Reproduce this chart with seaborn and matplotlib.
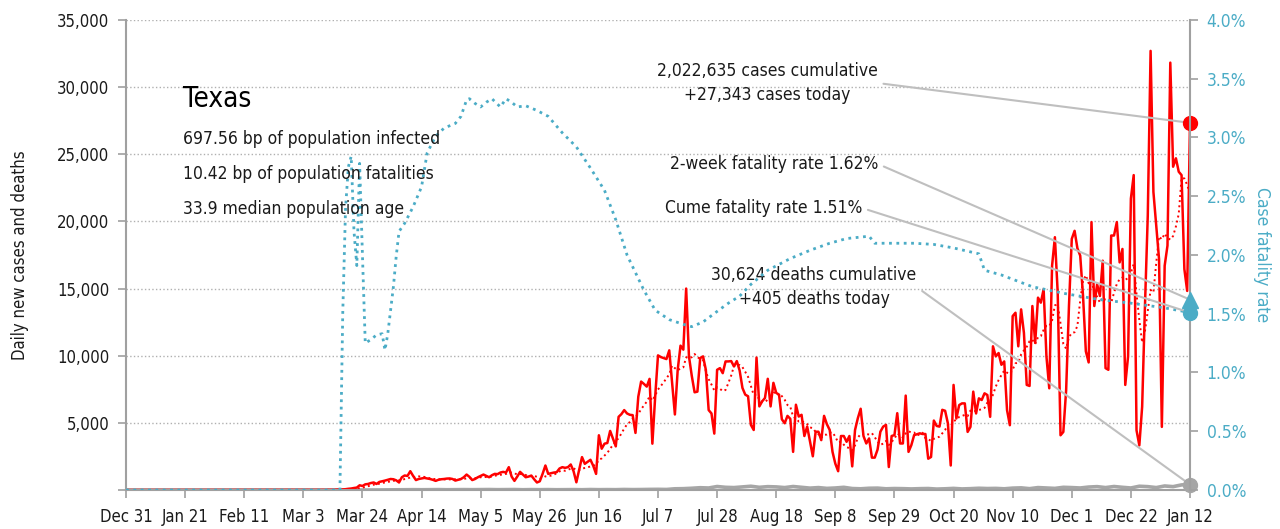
import pandas as pd
import seaborn as sns
import matplotlib.pyplot as plt
import matplotlib.dates as mdates
from matplotlib.ticker import FuncFormatter, MultipleLocator

# ------------------------------------------------------------------
# Texas daily new cases, deaths and case fatality rate
# ------------------------------------------------------------------

# daily new cases, Mar 1 2020 .. Jan 12 2021
cases = [
    0, 0, 0, 0, 1, 2, 3, 2, 4, 5,
    8, 10, 15, 20, 30, 25, 40, 60, 90, 110,
    150, 180, 350, 300, 420, 450, 520, 560, 450, 600,
    650, 700, 760, 820, 800, 720, 560, 950, 1080, 1050,
    1400, 1050, 740, 820, 860, 900, 860, 820, 760, 680,
    760, 800, 820, 850, 860, 820, 700, 760, 820, 950,
    1150, 980, 740, 820, 950, 1050, 1150, 1050, 950, 1100,
    1200, 1180, 1300, 1350, 1300, 1700, 1000, 680, 1000, 1350,
    1150, 950, 1000, 1075, 800, 560, 650, 1200, 1825, 1200,
    1250, 1300, 1325, 1600, 1700, 1650, 1700, 1900, 1400, 575,
    1500, 2450, 1950, 2100, 2250, 1800, 1200, 4075, 3075, 3450,
    3500, 4400, 3825, 3250, 5450, 5650, 5950, 5700, 5600, 5575,
    4250, 6950, 8075, 7900, 7700, 8275, 3450, 6950, 10025, 9900,
    9825, 9750, 10400, 8000, 5625, 8950, 10750, 10450, 15000, 9950,
    8500, 7275, 7325, 9825, 9950, 8950, 5950, 5700, 4200, 8950,
    9075, 8700, 9575, 9575, 9600, 9200, 9600, 8900, 7600, 7100,
    6980, 4850, 4470, 9860, 6225, 6600, 6850, 8280, 6225, 7980,
    7230, 7100, 5270, 4970, 5520, 5300, 2840, 6350, 5470, 5600,
    4020, 4720, 3600, 2510, 4340, 4340, 3715, 5520, 4900, 4470,
    2840, 1960, 1400, 4020, 4020, 3590, 4020, 1760, 4470, 5350,
    6050, 4020, 3465, 3840, 2410, 2410, 3010, 4340, 4720, 4850,
    1710, 4020, 4090, 5720, 3465, 3465, 7030, 2840, 3340, 4090,
    4150, 4220, 4170, 4170, 2330, 2460, 5170, 4770, 4720, 5970,
    5900, 4950, 1825, 7825, 5325, 6325, 6450, 6450, 4325, 4700,
    7325, 5700, 6825, 6700, 7200, 7075, 5450, 10700, 9950, 10200,
    9325, 9575, 5950, 4825, 12950, 13200, 10700, 13450, 11700, 7825,
    7750, 13700, 10950, 14325, 13950, 14950, 9950, 7575, 16700, 18825,
    14700, 4075, 4325, 7450, 13700, 18700, 19300, 18000, 17450, 14450,
    10325, 9500, 19950, 13700, 15325, 14450, 17075, 9075, 8950, 18950,
    18950, 19950, 16950, 17950, 7825, 9950, 21700, 23450, 4450, 3325,
    6200, 13700, 20450, 32700, 22200, 19700, 17200, 4700, 16700, 18200,
    31825, 24075, 24700, 23700, 23450, 16450, 14825, 27343,
]

# daily deaths, sampled every third day, ending Jan 12 2021
deaths = [
    0, 1, 3, 5, 10, 15, 20, 25, 20, 25, 30, 20, 25, 30, 25, 30,
    35, 25, 30, 35, 20, 30, 25, 30, 20, 25,
    30, 20, 35, 25, 30, 25, 40, 30, 35, 45,
    50, 40, 90, 100, 130, 170, 150, 260, 200, 180,
    230, 280, 200, 250, 230, 180, 260, 200, 140, 180,
    120, 150, 200, 110, 90, 130, 140, 90, 110, 100,
    80, 100, 110, 70, 90, 120, 80, 100, 130, 110,
    120, 90, 140, 160, 100, 180, 150, 120, 200, 180,
    150, 220, 250, 180, 260, 200, 150, 280, 250, 180,
    300, 250, 380, 405,
]

# case fatality rate (%), by day offset from Dec 31 2019
cfr_day = [0, 76, 77, 78, 79, 80, 81, 82, 83, 84, 85, 87, 89, 91, 92, 93,
           94, 95, 96, 97, 99, 102, 105, 107, 110, 113, 117, 119, 121, 122,
           124, 126, 128, 130, 133, 135, 137, 139, 142, 146, 150, 155, 160,
           165, 170, 174, 178, 184, 188, 193, 198, 201, 205, 210, 214, 218,
           222, 228, 236, 243, 250, 256, 260, 264, 266, 272, 280, 287, 294,
           303, 305, 311, 322, 334, 346, 357, 369, 378]
cfr_pct = [0.0, 0.0, 1.5, 2.4, 2.75, 2.84, 2.2, 1.91, 2.78, 2.0, 1.25, 1.28,
           1.32, 1.33, 1.19, 1.33, 1.53, 1.73, 1.99, 2.2, 2.27, 2.41, 2.58,
           2.87, 3.01, 3.08, 3.12, 3.18, 3.32, 3.33, 3.29, 3.26, 3.30, 3.33,
           3.26, 3.33, 3.30, 3.26, 3.27, 3.23, 3.18, 3.04, 2.92, 2.74, 2.55,
           2.30, 2.0, 1.70, 1.53, 1.45, 1.41, 1.39, 1.43, 1.52, 1.59, 1.65,
           1.75, 1.87, 1.97, 2.04, 2.10, 2.14, 2.15, 2.16, 2.10, 2.10, 2.10,
           2.09, 2.06, 2.01, 1.87, 1.83, 1.73, 1.67, 1.62, 1.59, 1.55, 1.51]

today_cases = 27343
today_deaths = 405
two_week_cfr = 1.62
cume_cfr = 1.51

stats_lines = ["697.56 bp of population infected",
               "10.42 bp of population fatalities",
               "33.9 median population age"]

RED = "#ff0000"
TEAL = "#4bacc6"
GREY = "#a6a6a6"
LINE = "#bfbfbf"
AXIS = "#a0a0a0"
INK = "#1a1a1a"

# ------------------------------------------------------------------
start = pd.Timestamp("2019-12-31")
end = pd.Timestamp("2021-01-12")
full_idx = pd.date_range(start, end, freq="D")

df = pd.DataFrame({"cases": cases},
                  index=pd.date_range(end=end, periods=len(cases), freq="D"))
df = df.reindex(full_idx, fill_value=0)
df["avg7"] = df["cases"].rolling(7, min_periods=1).mean()
df = df.rename_axis("date").reset_index()

deaths_df = pd.DataFrame({
    "date": pd.date_range(end=end, periods=len(deaths), freq="3D"),
    "deaths": deaths,
})
deaths_df = pd.concat([pd.DataFrame({"date": [start], "deaths": [0]}), deaths_df])

cfr_df = pd.DataFrame({
    "date": [start + pd.Timedelta(days=d) for d in cfr_day],
    "cfr": cfr_pct,
})

sns.set_theme(style="white")
plt.rcParams["font.family"] = ["Liberation Sans Narrow", "DejaVu Sans"]
plt.rcParams["font.stretch"] = "condensed"

fig = plt.figure(figsize=(12.8, 5.29), dpi=100)
ax = fig.add_axes([126 / 1280, 39 / 529, 1064 / 1280, 470 / 529])
ax2 = ax.twinx()

sns.lineplot(data=deaths_df, x="date", y="deaths", ax=ax, color=GREY, linewidth=2.6)
sns.lineplot(data=df, x="date", y="avg7", ax=ax, color=RED, linewidth=1.4, linestyle=":")
sns.lineplot(data=df, x="date", y="cases", ax=ax, color=RED, linewidth=1.8)
sns.lineplot(data=cfr_df, x="date", y="cfr", ax=ax2, color=TEAL, linewidth=2.0, linestyle=":")

# end-point markers
ax.plot([end], [today_cases], "o", color=RED, ms=10, clip_on=False, zorder=6)
ax.plot([end], [today_deaths], "o", color=GREY, ms=10, clip_on=False, zorder=6)
ax2.plot([end], [two_week_cfr], "^", color=TEAL, ms=11, clip_on=False, zorder=6)
ax2.plot([end], [cume_cfr], "o", color=TEAL, ms=10, clip_on=False, zorder=6)

# axes
ax.set_xlim(start, end)
ax.set_ylim(0, 35000)
ax2.set_ylim(0, 4.0)
ax.set_xticks(pd.date_range(start, end, freq="21D"))
ax.xaxis.set_major_formatter(mdates.DateFormatter("%b %-d"))
ax.yaxis.set_major_locator(MultipleLocator(5000))
ax.yaxis.set_major_formatter(FuncFormatter(lambda v, p: "" if v == 0 else f"{v:,.0f}"))
ax2.yaxis.set_major_locator(MultipleLocator(0.5))
ax2.yaxis.set_major_formatter(FuncFormatter(lambda v, p: f"{v:.1f}%"))

ax.grid(axis="y", linestyle=":", color="#b0b0b0", linewidth=1)
ax.grid(axis="x", visible=False)
ax2.grid(False)

for a in (ax, ax2):
    a.spines["top"].set_visible(False)
ax.spines["right"].set_visible(False)
ax2.spines["left"].set_visible(False)
ax2.spines["bottom"].set_visible(False)
for s in ("left", "bottom"):
    ax.spines[s].set_color(AXIS)
    ax.spines[s].set_linewidth(1.5)
ax2.spines["right"].set_color(AXIS)
ax2.spines["right"].set_linewidth(1.5)

ax.tick_params(axis="both", direction="out", length=6, width=1.2, color=AXIS,
               labelsize=12, labelcolor=INK, pad=6)
ax.tick_params(axis="x", bottom=True, pad=7)
ax.tick_params(axis="y", left=True)
ax2.tick_params(axis="y", direction="out", length=6, width=1.2, color=AXIS,
                labelsize=12.5, labelcolor=TEAL, right=True, pad=6)

ax.set_xlabel("")
ax.set_ylabel("Daily new cases and deaths", fontsize=12, color=INK, labelpad=20)
ax2.set_ylabel("Case fatality rate", fontsize=12.5, color=TEAL, rotation=270, labelpad=18)

# title block
fig.text(183 / 1280, 1 - 107 / 529, "Texas", fontsize=20, color="#000000", va="baseline")
for i, line in enumerate(stats_lines):
    fig.text(183 / 1280, 1 - (144 + i * 35) / 529, line, fontsize=12.5,
             color=INK, va="baseline")

# annotations
line_kw = dict(arrowstyle="-", color=LINE, lw=1.5, shrinkA=2, shrinkB=0, relpos=(1, 0.5))
ax.annotate(f"2,022,635 cases cumulative\n+{today_cases:,} cases today",
            xy=(end, today_cases), xytext=(767, 529 - 83), textcoords="figure pixels",
            ha="center", va="center", fontsize=12.5, color=INK,
            arrowprops=line_kw, linespacing=1.45)
ax2.annotate(f"2-week fatality rate {two_week_cfr:.2f}%",
             xy=(end, two_week_cfr), xytext=(878, 529 - 164), textcoords="figure pixels",
             ha="right", va="center", fontsize=12.5, color=INK, arrowprops=line_kw)
ax2.annotate(f"Cume fatality rate {cume_cfr:.2f}%",
             xy=(end, cume_cfr), xytext=(862, 529 - 208), textcoords="figure pixels",
             ha="right", va="center", fontsize=12.5, color=INK, arrowprops=line_kw)
ax.annotate(f"30,624 deaths cumulative\n+{today_deaths} deaths today",
            xy=(end, today_deaths), xytext=(814, 529 - 287), textcoords="figure pixels",
            ha="center", va="center", fontsize=12.5, color=INK,
            arrowprops=line_kw, linespacing=1.45)

fig.savefig("out.png", dpi=100)
